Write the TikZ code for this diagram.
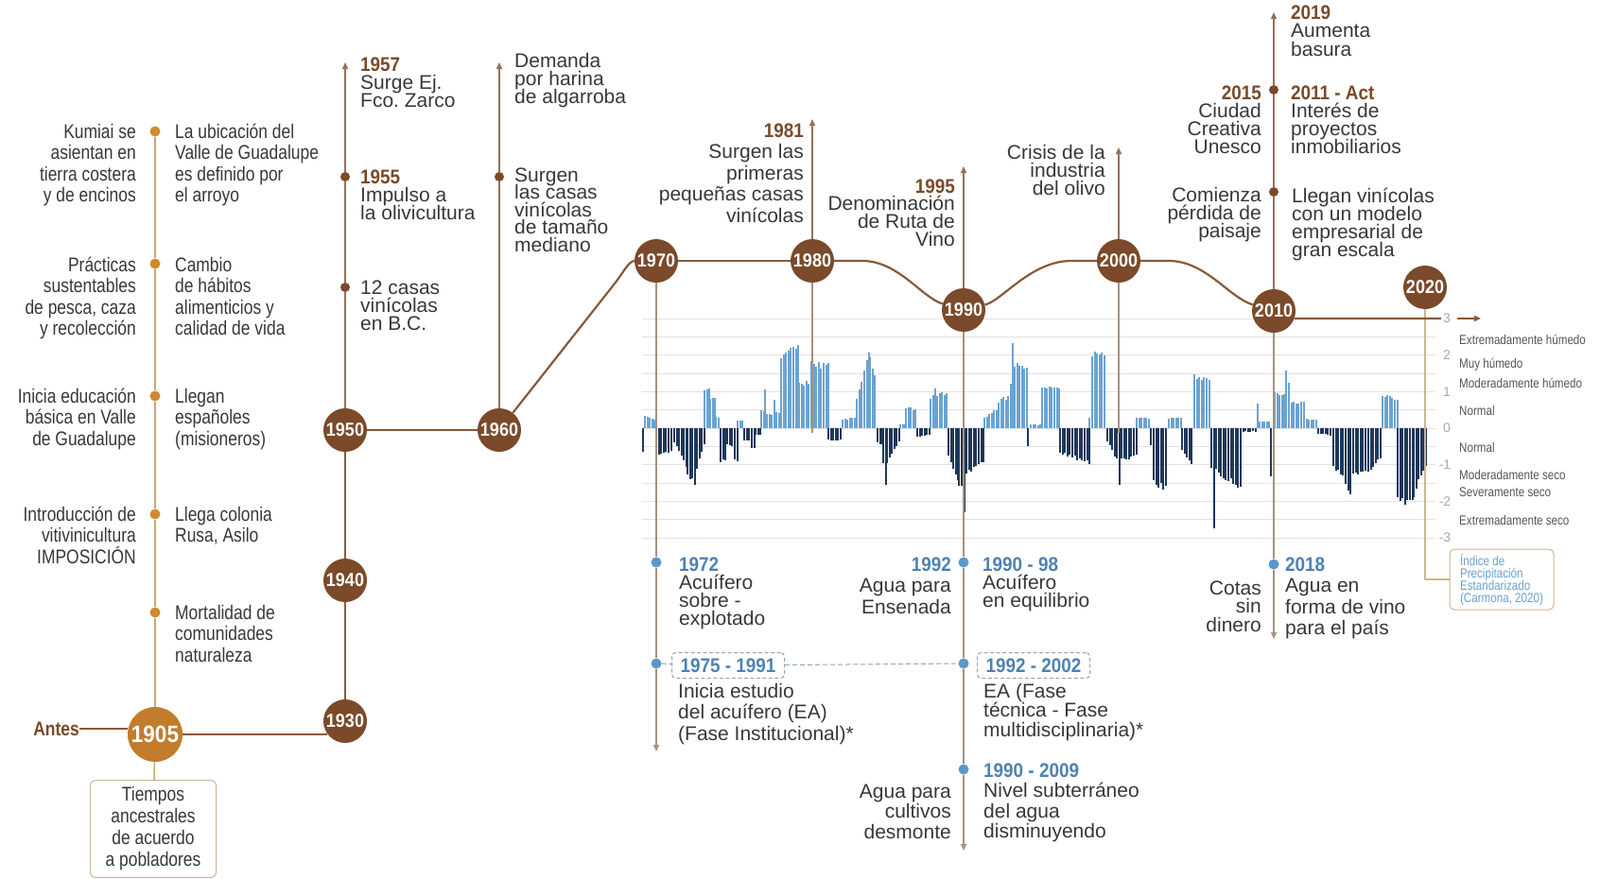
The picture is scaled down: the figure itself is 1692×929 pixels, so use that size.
\documentclass[tikz,border=0pt]{standalone}
\usepackage{fontspec}
\setmainfont{Liberation Sans}
\newfontfamily\condf[FakeStretch=0.83]{Liberation Sans}
\newfontfamily\ycf[FakeStretch=0.9]{Liberation Sans}
\usetikzlibrary{arrows.meta}
\definecolor{cbrown}{HTML}{7A4A2A}
\definecolor{corange}{HTML}{C27C2C}
\definecolor{cdot}{HTML}{D08A2E}
\definecolor{ctan}{HTML}{CBA775}
\definecolor{ctl}{HTML}{875A3A}
\definecolor{ccol}{HTML}{94715A}
\definecolor{cgl}{HTML}{A5917F}
\definecolor{txt}{HTML}{383838}
\definecolor{cyb}{HTML}{7A4A2A}
\definecolor{cblue}{HTML}{4D82B3}
\definecolor{cbdot}{HTML}{5B97CB}
\definecolor{cdash}{HTML}{93A7BA}
\definecolor{barP}{HTML}{6BA3D1}
\definecolor{barN}{HTML}{1E375A}
\definecolor{cgrid}{HTML}{E2E2E2}
\definecolor{clab}{HTML}{555555}
\definecolor{ctick}{HTML}{B0A89F}
\definecolor{cidx}{HTML}{6AA0CF}
\definecolor{cbox}{HTML}{CDB595}
\newcommand\LL[2]{\vtop{\let\\\cr\baselineskip=#1pt\lineskiplimit=-100pt\lineskip=0pt\halign{##\hfil\cr#2\crcr}}}
\newcommand\RR[2]{\vtop{\let\\\cr\baselineskip=#1pt\lineskiplimit=-100pt\lineskip=0pt\halign{\hfil##\cr#2\crcr}}}
\newcommand\CC[2]{\vtop{\let\\\cr\baselineskip=#1pt\lineskiplimit=-100pt\lineskip=0pt\halign{\hfil##\hfil\cr#2\crcr}}}
\newcommand\yb[1]{{\ycf\bfseries\color{cyb}#1}}
\newcommand\yc[1]{{\ycf\bfseries\color{cblue}#1}}
\tikzset{
  yearc/.style={circle, fill=cbrown, text=white, minimum size=46pt, inner sep=0pt, font=\ycf\bfseries\fontsize{20}{20}\selectfont},
  yearo/.style={circle, fill=corange, text=white, minimum size=58pt, inner sep=0pt, font=\ycf\bfseries\fontsize{25}{25}\selectfont},
  odot/.style={circle, fill=cdot, minimum size=11pt, inner sep=0pt},
  pdot/.style={circle, fill=cbrown, minimum size=10pt, inner sep=0pt},
  bdot/.style={circle, fill=cbdot, minimum size=11pt, inner sep=0pt},
  cond/.style={font=\condf\fontsize{21}{22.5}\selectfont, text=txt, inner sep=0pt},
  reg/.style={font=\fontsize{21}{19}\selectfont, text=txt, inner sep=0pt},
  catlab/.style={font=\condf\fontsize{14}{14}\selectfont, text=clab, inner sep=0pt, anchor=west},
  ticklab/.style={font=\fontsize{14}{14}\selectfont, text=ctick, inner sep=2pt},
  tline/.style={draw=ctl, line width=2.2pt},
  tanline/.style={draw=ctan, line width=1.6pt},
  colline/.style={draw=ccol, line width=1.4pt},
  greyline/.style={draw=cgl, line width=1.3pt},
  axisline/.style={draw=cbox, line width=1.3pt},
  dashline/.style={draw=cdash, line width=1pt, dash pattern=on 5pt off 3pt},
  gridline/.style={draw=cgrid, line width=0.9pt},
  tipped/.style={-{Triangle[length=7pt,width=6pt]}},
  dbox/.style={draw=cdash, line width=1pt, dash pattern=on 4pt off 2.5pt, rounded corners=4pt, minimum width=119pt, minimum height=27pt, inner sep=0pt, text=cblue, font=\ycf\bfseries\fontsize{21}{21}\selectfont},
}
\begin{document}
\begin{tikzpicture}[x=1pt,y=-1pt]
\useasboundingbox (0,0) rectangle (1692,929);
\fill[white] (0,0) rectangle (1692,929);

% grid of the SPI chart
\foreach \k in {0,...,12}{\draw[gridline] (679,{337+19.333*\k}) -- (1518,{337+19.333*\k});}

% year circles
\node[yearo] (n1905) at (164,777) {1905};
\node[yearc] (n1930) at (365,763) {1930};
\node[yearc] (n1940) at (365,614) {1940};
\node[yearc] (n1950) at (365,455) {1950};
\node[yearc] (n1960) at (528,455) {1960};
\node[yearc] (n1970) at (694,276) {1970};
\node[yearc] (n1980) at (859,276) {1980};
\node[yearc] (n1990) at (1019,328) {1990};
\node[yearc] (n2000) at (1183,276) {2000};
\node[yearc] (n2010) at (1347,329) {2010};
\node[yearc] (n2020) at (1507,304) {2020};

% dots
\node[odot] (o1) at (164,139) {};
\node[odot] (o2) at (164,279) {};
\node[odot] (o3) at (164,419) {};
\node[odot] (o4) at (164,544) {};
\node[odot] (o5) at (164,648) {};
\node[pdot] (p1955) at (365,187) {};
\node[pdot] (p12) at (365,304) {};
\node[pdot] (p60) at (528,187) {};
\node[pdot] (p2015) at (1347,95) {};
\node[pdot] (p2010c) at (1347,203) {};
\node[bdot] (b1972) at (694,595) {};
\node[bdot] (b1975) at (694,702) {};
\node[bdot] (b1992) at (1019,595) {};
\node[bdot] (b9202) at (1019,702) {};
\node[bdot] (b9009) at (1019,814) {};
\node[bdot] (b2018) at (1347,597) {};

% ends of connectors
\coordinate (a1957) at (365,66);
\coordinate (a1960) at (528,66);
\coordinate (a1981) at (859,126);
\coordinate (a1995) at (1019,176);
\coordinate (a2000) at (1183,156);
\coordinate (a2019) at (1347,13);
\coordinate (e1970) at (694,795);
\coordinate (e1990) at (1019,900);
\coordinate (e2010) at (1347,676);
\coordinate (g1980) at (859,458);
\coordinate (g2000) at (1183,458);
\coordinate (j1930) at (346,777);
\coordinate (ar3) at (1566,337);

% Antes and box
\node[font=\condf\bfseries\fontsize{21}{21}\selectfont, text=cbrown, inner sep=0pt, anchor=base east] (antes) at (84,778) {Antes};
\node[draw=cbox, line width=1pt, rounded corners=6pt, minimum width=133pt, minimum height=103pt, inner sep=0pt, font=\condf\fontsize{21}{23}\selectfont, text=txt] (anc) at (162,877) {\CC{23}{Tiempos\\ancestrales\\de acuerdo\\a pobladores}};

% index box
\node[draw=cbox, line width=1pt, rounded corners=5pt, minimum width=110pt, minimum height=64pt, inner sep=0pt, font=\condf\fontsize{14}{13}\selectfont, text=cidx] (idx) at (1588,613) {\LL{13}{Índice de\\Precipitación\\Estandarizado\\(Carmona, 2020)}};

% dashed boxes
\node[dbox] (bx1) at (770,704) {1975 - 1991};
\node[dbox] (bx2) at (1093,704) {1992 - 2002};

% connectors of the left part
\draw[tanline] (o1) -- (o2) -- (o3) -- (o4) -- (o5) -- (n1905);
\draw[tanline] (n1905) -- (anc);
\draw[tline, line width=1.6pt] (antes.east) -- (antes.east -| n1905.west);
\draw[tline] (n1905) -- (j1930);
\draw[tline] (n1930) -- (n1940) -- (n1950);
\draw[colline] (n1950) -- (p12) -- (p1955);
\draw[colline, tipped] (p1955) -- (a1957);
\draw[tline] (n1950) -- (n1960);
\draw[colline] (n1960) -- (p60);
\draw[colline, tipped] (p60) -- (a1960);
\draw[tline] (n1960) -- (650,300) .. controls (658,290) and (665,276) .. (n1970.west);
\draw[tline] (n1970) -- (n1980);
\draw[tline] (n1980) -- (912,276) .. controls (950,276) and (975,315) .. (n1990);
\draw[tline] (n1990) .. controls (1060,318) and (1090,276) .. (1133,276) -- (n2000);
\draw[tline] (n2000) -- (1236,276) .. controls (1275,276) and (1300,315) .. (n2010);

% upper verticals
\draw[colline, tipped] (n1980) -- (a1981);
\draw[colline, tipped] (n1990) -- (a1995);
\draw[colline, tipped] (n2000) -- (a2000);
\draw[colline] (n2010) -- (p2010c) -- (p2015);
\draw[colline, tipped] (p2015) -- (a2019);

% SPI bars
\foreach \xa/\xb/\va/\vb/\c in {
679/679/-0.65/-0.65/N, 681/692/0.35/0.25/P, 693/709/-0.75/-0.7/N, 712/725/-0.4/-1.1/N,
726/734/-1.3/-1.65/N, 736/743/-1.1/-0.5/N, 744/749/1.1/1.1/P, 750/755/0.85/0.85/P,
756/759/0.35/0.3/P, 761/767/-0.95/-0.95/N, 768/775/-0.45/-0.5/N, 776/778/-0.95/-0.95/N,
779/784/0.2/0.2/P, 786/793/-0.35/-0.35/N, 794/797/-0.55/-0.55/N, 798/802/-0.2/-0.2/N,
804/807/0.5/0.5/P, 808/808/1.1/1.1/P, 810/817/0.4/0.4/P, 818/819/0.85/0.85/P,
820/824/0.45/0.5/P, 825/843/2.1/2.3/P, 844/856/1.3/1.3/P, 857/874/1.85/1.85/P,
875/889/-0.35/-0.35/N, 890/904/0.25/0.3/P, 905/912/0.8/1.6/P, 913/918/1.7/2.2/P,
919/925/2.0/1.6/P, 927/932/-0.4/-0.5/N, 933/936/-1.0/-1.65/N, 937/949/-1.0/-0.4/N,
951/955/0.1/0.1/P, 957/968/0.6/0.55/P, 969/982/-0.25/-0.2/N, 983/987/0.9/0.95/P,
988/988/1.15/1.15/P, 990/1000/1.0/0.95/P, 1002/1012/-0.8/-1.5/N, 1013/1018/-1.6/-1.65/N,
1019/1019/-2.5/-2.5/N, 1021/1039/-1.3/-1.0/N, 1040/1054/0.3/0.55/P, 1055/1066/0.8/0.9/P,
1068/1068/1.3/1.3/P, 1070/1070/2.4/2.4/P, 1072/1084/1.9/1.75/P, 1086/1086/-0.55/-0.55/N,
1089/1099/0.1/0.1/P, 1101/1118/1.2/1.15/P, 1120/1150/-0.7/-1.0/N, 1151/1153/0.3/0.3/P,
1154/1167/2.1/2.2/P, 1170/1180/-0.4/-0.9/N, 1183/1183/-1.65/-1.65/N, 1185/1200/-0.9/-0.8/N,
1201/1215/0.3/0.3/P, 1216/1218/-0.5/-0.5/N, 1219/1233/-1.6/-1.75/N, 1235/1248/0.3/0.3/P,
1249/1260/-0.6/-1.0/N, 1262/1278/1.5/1.45/P, 1280/1282/-1.2/-1.2/N, 1283/1283/-2.85/-2.85/N,
1285/1310/-1.2/-1.8/N, 1311/1327/-0.1/-0.1/N, 1329/1329/0.7/0.7/P, 1331/1342/0.2/0.2/P,
1343/1345/-1.4/-1.4/N, 1347/1357/1.0/1.0/P, 1359/1361/1.6/1.4/P, 1362/1377/0.75/0.75/P,
1378/1392/0.25/0.25/P, 1393/1407/-0.15/-0.2/N, 1409/1420/-1.1/-1.4/N, 1422/1428/-1.6/-1.9/N,
1430/1445/-1.3/-1.3/N, 1446/1460/-1.2/-0.9/N, 1461/1476/0.95/0.85/P, 1477/1492/-2.0/-2.2/N,
1494/1506/-1.9/-1.1/N}{
  \pgfmathtruncatemacro\nn{round((\xb-\xa)/2.6)}
  \foreach \i in {0,...,\nn}{
    \pgfmathsetmacro\xx{\xa+2.6*\i}
    \pgfmathsetmacro\vv{(\va+(\vb-\va)*\i/max(\nn,1))*(0.88+0.12*rnd)}
    \fill[bar\c] (\xx,453) rectangle ({\xx+1.9},{453-38.7*\vv});
  }
}

% verticals over the chart
\draw[greyline] (n1980) -- (g1980);
\draw[greyline] (n2000) -- (g2000);
\draw[greyline] (n1970) -- (b1972) -- (b1975);
\draw[greyline, tipped] (b1975) -- (e1970);
\draw[greyline] (n1990) -- (b1992) -- (b9202) -- (b9009);
\draw[greyline, tipped] (b9009) -- (e1990);
\draw[greyline] (n2010) -- (b2018);
\draw[greyline, tipped] (b2018) -- (e2010);
\draw[axisline] (n2020) |- (idx.west);
\draw[dashline] (b1975) -- (bx1);
\draw[dashline] (bx1) -- (b9202);

% axis labels
\node[ticklab] (t3) at (1530,337) {3};
\node[ticklab] (t2) at (1530,376) {2};
\node[ticklab] (t1) at (1530,414.6) {1};
\node[ticklab] (t0) at (1530,453) {0};
\node[ticklab] (tm1) at (1528,491.7) {-1};
\node[ticklab] (tm2) at (1528,530.4) {-2};
\node[ticklab] (tm3) at (1528,569) {-3};
\draw[tline] (n2010.-20) -- (t3);
\draw[tline, line width=1.6pt, tipped, shorten <=5pt] (t3) -- (ar3);
\node[catlab] (c1) at (1543,359) {Extremadamente húmedo};
\node[catlab] (c2) at (1543,386) {Muy húmedo};
\node[catlab] (c3) at (1543,405) {Moderadamente húmedo};
\node[catlab] (c4) at (1543,434) {Normal};
\node[catlab] (c5) at (1543,473) {Normal};
\node[catlab] (c6) at (1543,502) {Moderadamente seco};
\node[catlab] (c7) at (1543,521) {Severamente seco};
\node[catlab] (c8) at (1543,550) {Extremadamente seco};

% left column texts
\node[cond, anchor=base east] (l1) at (144,146) {\RR{22.5}{Kumiai se\\asientan en\\tierra costera\\y de encinos}};
\node[cond, anchor=base east] (l2) at (144,287) {\RR{22.5}{Prácticas\\sustentables\\de pesca, caza\\y recolección}};
\node[cond, anchor=base east] (l3) at (144,426) {\RR{22.5}{Inicia educación\\básica en Valle\\de Guadalupe}};
\node[cond, anchor=base east] (l4) at (144,551) {\RR{22.5}{Introducción de\\vitivinicultura\\IMPOSICIÓN}};
\node[cond, anchor=base west] (r1) at (185,146) {\LL{22.5}{La ubicación del\\Valle de Guadalupe\\es definido por\\el arroyo}};
\node[cond, anchor=base west] (r2) at (185,287) {\LL{22.5}{Cambio\\de hábitos\\alimenticios y\\calidad de vida}};
\node[cond, anchor=base west] (r3) at (185,426) {\LL{22.5}{Llegan\\españoles\\(misioneros)}};
\node[cond, anchor=base west] (r4) at (185,551) {\LL{22.5}{Llega colonia\\Rusa, Asilo}};
\node[cond, anchor=base west] (r5) at (185,655) {\LL{22.5}{Mortalidad de\\comunidades\\naturaleza}};

% upper texts
\node[reg, anchor=base west] (x1957) at (381,75) {\LL{19}{\yb{1957}\\Surge Ej.\\Fco.\ Zarco}};
\node[reg, anchor=base west] (x1955) at (381,194) {\LL{19}{\yb{1955}\\Impulso a\\la olivicultura}};
\node[reg, anchor=base west] (x12) at (381,311) {\LL{19}{12 casas\\vinícolas\\en B.C.}};
\node[reg, anchor=base west] (xdem) at (544,71) {\LL{19}{Demanda\\por harina\\de algarroba}};
\node[reg, anchor=base west] (xsur) at (544,192) {\LL{18.5}{Surgen\\las casas\\vinícolas\\de tamaño\\mediano}};
\node[reg, anchor=base east] (x1981) at (850,145) {\RR{22.5}{\yb{1981}\\Surgen las\\primeras\\pequeñas casas\\vinícolas}};
\node[reg, anchor=base east] (x1995) at (1010,204) {\RR{18.7}{\yb{1995}\\Denominación\\de Ruta de\\Vino}};
\node[reg, anchor=base east] (xcri) at (1169,168) {\RR{19.2}{Crisis de la\\industria\\del olivo}};
\node[reg, anchor=base east] (x2015) at (1334,105) {\RR{19.2}{\yb{2015}\\Ciudad\\Creativa\\Unesco}};
\node[reg, anchor=base west] (x2011) at (1365,105) {\LL{19.2}{\yb{2011 - Act}\\Interés de\\proyectos\\inmobiliarios}};
\node[reg, anchor=base west] (x2019) at (1365,20) {\LL{19.5}{\yb{2019}\\Aumenta\\basura}};
\node[reg, anchor=base east] (xcom) at (1334,213) {\RR{19}{Comienza\\pérdida de\\paisaje}};
\node[reg, anchor=base west] (xlle) at (1366,214) {\LL{19}{Llegan vinícolas\\con un modelo\\empresarial de\\gran escala}};

% lower texts
\node[reg, anchor=base west] (x1972) at (718,604) {\LL{19}{\yc{1972}\\Acuífero\\sobre -\\explotado}};
\node[reg, anchor=base east] (x1992) at (1006,604) {\RR{22.5}{\yc{1992}\\Agua para\\Ensenada}};
\node[reg, anchor=base west] (x9098) at (1039,604) {\LL{19}{\yc{1990 - 98}\\Acuífero\\en equilibrio}};
\node[reg, anchor=base west] (xini) at (717,738) {\LL{22.5}{Inicia estudio\\del acuífero (EA)\\(Fase Institucional)*}};
\node[reg, anchor=base west] (xea) at (1040,738) {\LL{20.5}{EA (Fase\\técnica - Fase\\multidisciplinaria)*}};
\node[reg, anchor=base west] (x9009) at (1040,822) {\LL{21.5}{\yc{1990 - 2009}\\Nivel subterráneo\\del agua\\disminuyendo}};
\node[reg, anchor=base east] (xcul) at (1006,844) {\RR{21.5}{Agua para\\cultivos\\desmonte}};
\node[reg, anchor=base east] (xcot) at (1334,629) {\RR{19.5}{Cotas\\sin\\dinero}};
\node[reg, anchor=base west] (x2018) at (1359,604) {\LL{22.5}{\yc{2018}\\Agua en\\forma de vino\\para el país}};
\end{tikzpicture}
\end{document}
